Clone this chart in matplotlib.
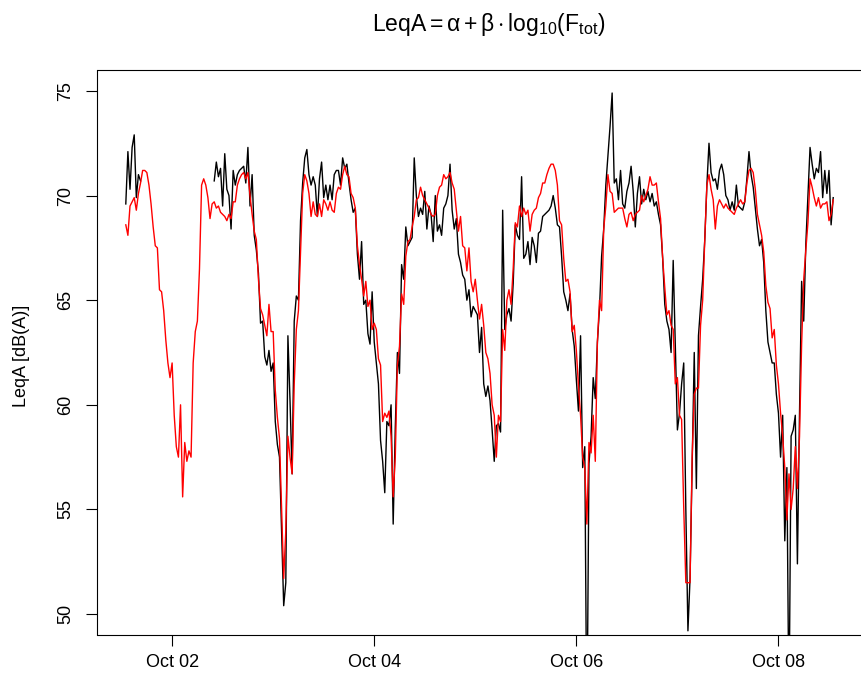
import matplotlib
matplotlib.use("Agg")
import matplotlib.pyplot as plt
import matplotlib.dates as mdates
import numpy as np
import pandas as pd

# half-hourly LeqA, Oct 01 13:00 to Oct 08 13:00
start = "2012-10-01 13:00"

measured = [
    69.6, 72.1, 70.3, 72.3, 72.9, 69.9, 71.0, 70.7,
] + [np.nan] * 34 + [
    70.7, 71.6, 70.9, 71.3, 69.5, 72.0, 70.3, 70.0, 68.4, 71.2,
    70.5, 71.0, 71.2, 71.3, 71.4, 70.6, 72.3, 69.5, 71.0, 68.1,
    67.4, 66.3, 63.9, 64.0, 62.3, 61.9, 62.6, 61.6, 62.0, 59.2,
    58.1, 57.5, 54.0, 50.4, 51.5, 63.3, 60.2, 56.7, 64.0, 65.2,
    65.0, 68.8, 70.6, 71.8, 72.2, 71.0, 70.5, 70.9, 70.5, 69.0,
    70.8, 71.6, 69.9, 70.5, 69.8, 70.5, 69.8, 71.0, 71.2, 71.2,
    70.5, 71.8, 71.3, 71.5, 70.6, 69.8, 69.2, 69.4, 67.2, 66.0,
    67.8, 64.8, 65.0, 63.4, 62.9, 65.4, 63.0, 62.0, 61.0, 58.3,
    57.3, 55.8, 59.2, 59.0, 60.0, 54.3, 58.9, 62.5, 61.5, 66.7,
    66.0, 68.5, 67.6, 67.8, 68.0, 71.8, 70.0, 69.0, 69.4, 69.1,
    70.2, 68.4, 69.5, 69.1, 67.8, 70.0, 68.3, 68.6, 68.1, 69.4,
    69.6, 70.0, 71.5, 69.3, 68.4, 68.9, 67.2, 66.8, 66.2, 66.0,
    65.0, 65.5, 64.2, 64.7, 64.5, 64.3, 62.5, 63.7, 61.0, 60.4,
    60.9, 60.2, 58.8, 57.3, 59.0, 59.1, 58.7, 69.3, 63.6, 64.3,
    64.6, 64.0, 65.8, 68.6, 68.1, 67.9, 70.9, 67.0, 67.2, 67.8,
    66.7, 68.0, 67.6, 66.8, 68.2, 68.3, 69.0, 69.1, 69.2, 69.3,
    69.5, 70.0, 69.4, 68.6, 68.5, 67.1, 65.4, 65.0, 64.5, 65.3,
    63.6, 62.8, 61.2, 59.7, 63.3, 57.0, 58.0, 44.0, 57.2, 58.5,
    61.3, 60.3, 63.0, 64.6, 67.1, 68.4, 70.5, 71.9, 73.3, 74.9,
    70.6, 70.8, 69.8, 71.2, 69.6, 69.4, 70.2, 70.6, 71.4, 70.2,
    68.5, 70.1, 70.9, 69.6, 70.3, 69.8, 70.2, 69.7, 70.1, 69.5,
    69.7, 69.1, 68.6, 67.0, 64.8, 64.0, 63.6, 62.5, 66.9, 62.8,
    58.8, 59.6, 61.0, 62.0, 55.0, 49.2, 51.7, 57.0, 62.5, 56.0,
    63.3, 64.7, 66.0, 67.9, 70.5, 72.5, 71.1, 70.7, 70.8, 70.3,
    71.2, 71.5, 71.0, 70.0, 69.8, 69.3, 69.7, 69.3, 70.5, 69.5,
    69.4, 69.3, 69.7, 70.8, 72.1, 71.0, 70.4, 69.4, 68.4, 67.6,
    67.9, 66.8, 64.5, 63.0, 62.5, 62.0, 62.0, 60.5, 59.6, 57.5,
    59.5, 53.5, 57.0, 45.0, 58.5, 58.8, 59.5, 52.4, 59.6, 65.9,
    64.0, 67.7, 70.0, 72.3, 71.5, 70.8, 71.3, 71.1, 72.1, 69.9,
    71.2, 70.1, 71.2, 68.6, 69.9,
]

# model: alpha + beta * log10(F_tot)
fitted = [
    68.6, 68.1, 69.5, 69.7, 69.9, 69.3, 70.1, 70.6, 71.2, 71.2,
    71.1, 70.5, 69.6, 68.5, 67.6, 67.5, 65.5, 65.4, 64.5, 63.1,
    62.0, 61.3, 62.0, 59.5, 58.0, 57.5, 60.0, 55.6, 58.2, 57.3,
    57.8, 57.5, 62.0, 63.5, 64.0, 66.5, 70.5, 70.8, 70.5, 69.9,
    68.9, 69.6, 69.7, 69.4, 69.5, 69.2, 69.1, 69.0, 68.8, 69.1,
    68.9, 69.7, 69.7, 70.5, 70.8, 71.0, 71.1, 70.8, 71.1, 70.0,
    69.1, 68.3, 67.9, 66.0, 64.6, 64.3, 63.8, 63.3, 64.8, 63.5,
    63.5, 60.7, 59.4, 58.4, 55.0, 51.7, 54.0, 58.5, 57.5, 56.7,
    61.0, 63.6, 64.5, 67.3, 70.1, 71.0, 70.7, 70.1, 69.0, 69.7,
    69.1, 69.0, 69.6, 69.0, 69.8, 69.6, 69.3, 69.7, 69.3, 69.2,
    70.1, 70.4, 70.3, 71.0, 71.4, 71.0, 70.9, 70.1, 69.9, 69.4,
    67.6, 66.7, 66.0, 65.2, 65.9, 64.7, 65.0, 63.6, 63.9, 63.6,
    62.2, 61.9, 59.2, 59.6, 59.4, 59.7, 58.5, 55.6, 57.5, 61.9,
    62.8, 65.3, 64.8, 67.1, 67.8, 67.9, 68.5, 69.0, 69.8, 69.9,
    70.4, 70.0, 69.8, 69.6, 69.4, 69.1, 69.0, 69.1, 70.0, 70.4,
    70.5, 71.0, 70.8, 70.9, 71.1, 70.6, 70.3, 69.3, 68.3, 69.0,
    67.6, 67.5, 66.4, 67.5, 65.9, 65.4, 66.0, 65.0, 64.1, 64.8,
    63.8, 62.5, 62.2, 61.5, 60.0, 59.5, 57.5, 59.5, 59.2, 63.6,
    62.6, 65.0, 65.5, 64.8, 66.5, 68.7, 68.5, 69.5, 69.0, 69.4,
    69.1, 69.3, 68.3, 69.1, 69.3, 69.4, 69.9, 70.1, 70.6, 70.6,
    71.0, 71.3, 71.5, 71.5, 71.2, 70.5, 68.8, 68.6, 67.0, 65.9,
    66.0, 65.4, 63.5, 63.8, 62.6, 60.9, 59.5, 57.5, 57.0, 54.3,
    58.2, 57.7, 59.5, 57.3, 63.0, 65.0, 64.5, 68.4, 69.5, 71.0,
    70.2, 70.1, 69.2, 69.3, 69.4, 69.4, 69.4, 68.9, 68.5, 69.1,
    69.2, 68.8, 69.1, 69.2, 69.3, 70.0, 69.7, 70.0, 70.3, 70.9,
    70.5, 70.5, 70.6, 69.7, 68.9, 67.0, 65.6, 64.3, 64.5, 63.8,
    63.6, 61.0, 61.3, 59.5, 59.3, 55.1, 51.5, 51.5, 51.5, 57.5,
    60.5, 60.8, 60.8, 63.8, 65.0, 67.9, 70.5, 71.0, 70.3, 69.8,
    68.4, 69.5, 69.8, 69.6, 69.4, 69.6, 69.4, 69.3, 69.2, 69.1,
    69.4, 69.6, 69.8, 69.6, 69.7, 70.6, 71.2, 71.3, 71.1, 70.3,
    69.1, 68.6, 68.1, 67.3, 65.7, 64.9, 64.6, 63.2, 63.6, 61.9,
    61.0, 59.6, 58.5, 57.0, 54.5, 56.7, 55.0, 56.0, 58.0, 56.0,
    58.5, 62.9, 66.0, 67.4, 68.7, 70.8, 70.4, 69.9, 69.5, 69.9,
    69.4, 69.6, 69.6, 69.7, 68.8, 69.1, 69.8,
]

y_ticks = [50, 55, 60, 65, 70, 75]
title = (r"$\mathrm{LeqA} = \alpha + \beta \cdot "
         r"\mathrm{log}_{10}(\mathrm{F}_{\mathrm{tot}})$")
ylabel = "LeqA [dB(A)]"


def plotter(times, meas, fit):
    plt.rcParams["font.family"] = ["Liberation Sans", "DejaVu Sans"]
    plt.rcParams["mathtext.fontset"] = "custom"
    plt.rcParams["mathtext.rm"] = "Liberation Sans"
    plt.rcParams["mathtext.it"] = "Liberation Sans"
    plt.rcParams["mathtext.sf"] = "Liberation Sans"
    plt.rcParams["mathtext.bf"] = "Liberation Sans:bold"

    fig = plt.figure(figsize=(8.62, 6.84), dpi=100)
    ax = fig.add_axes([97.5 / 862, 1 - 635 / 684, 764 / 862, 565 / 684])

    ax.plot(times, meas, color="black", lw=1.0)
    ax.plot(times, fit, color="red", lw=1.0)

    # R style axis ranges: 4% padding
    span = times[-1] - times[0]
    ax.set_xlim(times[0] - 0.04 * span, times[-1] + 0.04 * span)
    ax.set_ylim(49, 76)

    ax.xaxis.set_major_locator(mdates.DayLocator(bymonthday=[2, 4, 6, 8]))
    ax.xaxis.set_major_formatter(mdates.DateFormatter("%b %d"))
    ax.set_yticks(y_ticks)
    ax.set_yticklabels([str(v) for v in y_ticks], rotation=90, va="center")

    ax.tick_params(axis="both", direction="out", length=8, width=0.8,
                   labelsize=13)
    ax.tick_params(axis="x", pad=6)
    ax.tick_params(axis="y", pad=9)
    for s in ax.spines.values():
        s.set_linewidth(0.8)

    fig.text(22 / 862, 1 - 356 / 684, ylabel, rotation=90,
             ha="center", va="center", fontsize=13)
    fig.text(489 / 862, 1 - 24 / 684, title, ha="center", va="center",
             fontsize=16.5)

    fig.savefig("out.png", dpi=100)


def main():
    times = pd.date_range(start, periods=len(fitted), freq="30min")
    plotter(times, measured, fitted)


if __name__ == '__main__':
    main()
